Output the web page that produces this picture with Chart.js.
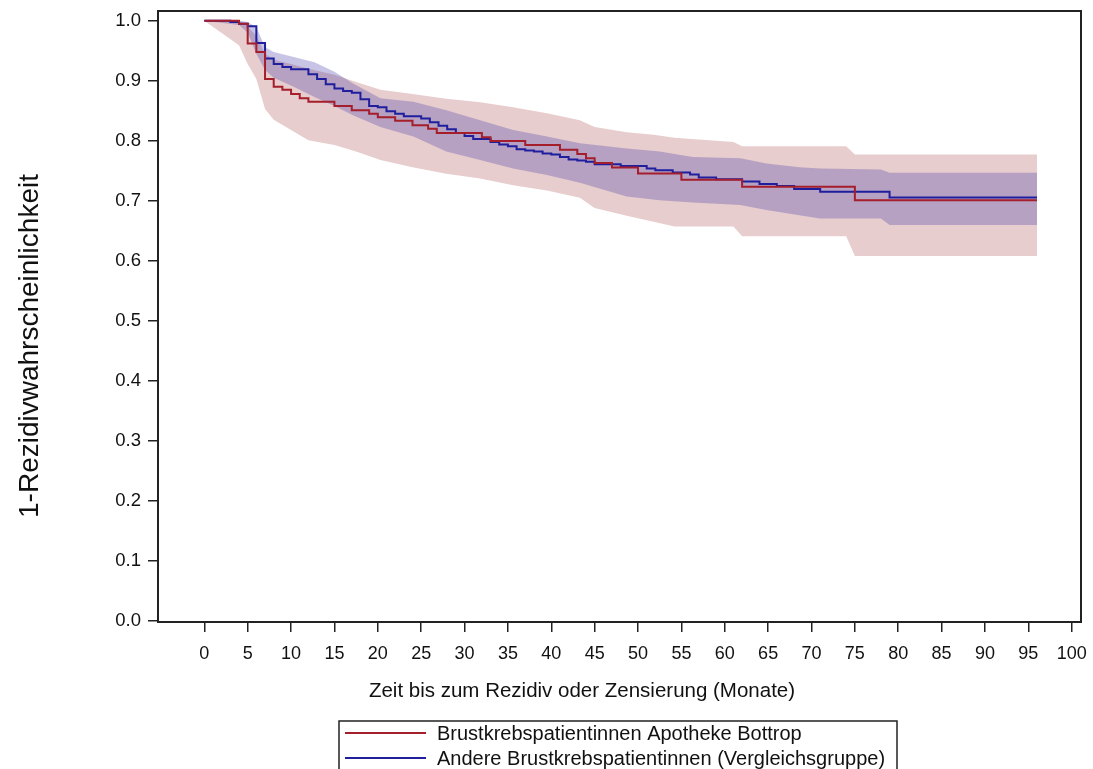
<!DOCTYPE html>
<html lang="de">
<head>
<meta charset="utf-8">
<script src="https://cdn.jsdelivr.net/npm/chart.js@4/dist/chart.umd.min.js"></script>
<style>
  html, body { margin: 0; padding: 0; background: #fff; }
  #wrap { position: relative; width: 1093px; height: 769px; }
</style>
</head>
<body>
<div id="wrap"><canvas id="kmChart"></canvas></div>
<script>
// Kaplan-Meier: Apotheke Bottrop (rot)
const redTimes = [0, 4, 5, 6, 7, 8, 9, 10, 11, 12, 15, 17, 19, 20, 22, 24, 25.8, 26.8, 32, 33, 37, 41, 43, 44, 45, 47, 50, 55, 62, 75, 96];
const redSurv = [1.0, 0.995, 0.962, 0.948, 0.903, 0.890, 0.885, 0.878, 0.871, 0.865, 0.858, 0.851, 0.845, 0.839, 0.8335, 0.826, 0.820, 0.813, 0.806, 0.7995, 0.793, 0.785, 0.778, 0.771, 0.763, 0.7555, 0.7455, 0.735, 0.7233, 0.701, 0.701];

// Kaplan-Meier: Vergleichsgruppe (blau)
const blueTimes = [0, 3, 4, 5, 6, 7, 8, 9, 10, 12, 13, 14, 15, 16, 17, 18, 19, 20, 21, 22, 23, 25, 26, 27, 28, 29, 30, 31, 33, 34, 35, 36, 37, 38, 39, 40, 41, 42, 43, 44, 45, 48, 51, 52, 54, 56, 57, 59, 62, 64, 66, 68, 71, 79, 96];
const blueSurv = [1.0, 0.998, 0.995, 0.991, 0.963, 0.937, 0.928, 0.923, 0.919, 0.911, 0.903, 0.894, 0.887, 0.883, 0.880, 0.869, 0.858, 0.856, 0.849, 0.845, 0.841, 0.837, 0.831, 0.825, 0.819, 0.813, 0.808, 0.803, 0.798, 0.794, 0.791, 0.786, 0.784, 0.782, 0.779, 0.777, 0.773, 0.769, 0.767, 0.765, 0.761, 0.758, 0.754, 0.751, 0.747, 0.744, 0.739, 0.736, 0.732, 0.728, 0.7245, 0.7195, 0.715, 0.7057, 0.7057];

// Konfidenzbänder
const redBandTimes = [0, 4, 5, 6, 7, 8, 10, 12, 15, 17.5, 20.3, 24, 27.9, 31.8, 35.6, 39.5, 43.3, 45, 48.7, 51.8, 54.2, 61, 62, 74, 75, 96];
const redUpper = [1.0, 1.0, 0.99, 0.975, 0.945, 0.935, 0.928, 0.92, 0.91, 0.898, 0.885, 0.878, 0.870, 0.864, 0.856, 0.846, 0.834, 0.823, 0.814, 0.810, 0.805, 0.798, 0.791, 0.791, 0.777, 0.777];
const redLower = [1.0, 0.959, 0.928, 0.903, 0.853, 0.835, 0.818, 0.801, 0.793, 0.782, 0.768, 0.756, 0.745, 0.737, 0.726, 0.717, 0.705, 0.688, 0.675, 0.665, 0.657, 0.657, 0.641, 0.641, 0.608, 0.608];

const blueBandTimes = [0, 4, 5, 6, 7, 8, 10.3, 12.7, 15, 17.2, 20.3, 24.1, 27.9, 31.8, 35.6, 39.5, 43.3, 48.7, 52.5, 56.3, 61.8, 64.8, 68.6, 71, 78, 79, 96];
const blueUpper = [1.0, 1.0, 0.998, 0.989, 0.956, 0.948, 0.9395, 0.931, 0.915, 0.895, 0.871, 0.865, 0.851, 0.834, 0.818, 0.807, 0.796, 0.787, 0.782, 0.773, 0.771, 0.762, 0.756, 0.754, 0.752, 0.7467, 0.7467];
const blueLower = [1.0, 0.993, 0.98, 0.945, 0.918, 0.905, 0.89, 0.873, 0.858, 0.842, 0.823, 0.807, 0.782, 0.768, 0.754, 0.743, 0.73, 0.707, 0.701, 0.697, 0.693, 0.6845, 0.676, 0.6705, 0.6705, 0.6595, 0.6595];

// Achsen
const xTicks = [0, 5, 10, 15, 20, 25, 30, 35, 40, 45, 50, 55, 60, 65, 70, 75, 80, 85, 90, 95, 100];
const yTicks = [0.0, 0.1, 0.2, 0.3, 0.4, 0.5, 0.6, 0.7, 0.8, 0.9, 1.0];
const xTitle = 'Zeit bis zum Rezidiv oder Zensierung (Monate)';
const yTitle = '1-Rezidivwahrscheinlichkeit';
const legendLabels = ['Brustkrebspatientinnen Apotheke Bottrop', 'Andere Brustkrebspatientinnen (Vergleichsgruppe)'];

const RED = '#A51E2B';
const BLUE = '#1F1F9E';
const FONT = '"Liberation Sans", Arial, sans-serif';

function pts(xs, ys) {
    return xs.map((x, i) => ({ x: x, y: ys[i] }));
}

// Rahmen, Achsentitel und Legende
const decorPlugin = {
    id: 'decor',
    afterDraw(chart) {
        const ctx = chart.ctx;
        const a = chart.chartArea;
        ctx.save();
        ctx.strokeStyle = '#222';
        ctx.lineWidth = 2;
        ctx.strokeRect(a.left, a.top, a.right - a.left, a.bottom - a.top);

        ctx.fillStyle = '#111';
        ctx.font = '20.5px ' + FONT;
        ctx.textAlign = 'center';
        ctx.textBaseline = 'alphabetic';
        ctx.fillText(xTitle, 582, 697);

        ctx.save();
        ctx.translate(38, 346);
        ctx.rotate(-Math.PI / 2);
        ctx.font = '28px ' + FONT;
        ctx.fillText(yTitle, 0, 0);
        ctx.restore();

        // Legende (unten abgeschnitten wie im Original)
        ctx.strokeStyle = '#222';
        ctx.lineWidth = 1.5;
        ctx.strokeRect(339, 721, 558, 60);
        const colors = [RED, BLUE];
        const rows = [733, 758];
        ctx.font = '20px ' + FONT;
        ctx.textAlign = 'left';
        ctx.textBaseline = 'middle';
        legendLabels.forEach((lab, i) => {
            ctx.strokeStyle = colors[i];
            ctx.lineWidth = 2;
            ctx.beginPath();
            ctx.moveTo(345, rows[i]);
            ctx.lineTo(426, rows[i]);
            ctx.stroke();
            ctx.fillStyle = '#111';
            ctx.fillText(lab, 437, rows[i] + 1);
        });
        ctx.restore();
    }
};

const lineBase = { pointRadius: 0, pointHoverRadius: 0, tension: 0 };

new Chart(document.getElementById('kmChart'), {
    type: 'line',
    data: {
        datasets: [
            Object.assign({ label: legendLabels[0], data: pts(redTimes, redSurv), borderColor: RED, borderWidth: 2, stepped: 'before', fill: false, order: 0 }, lineBase),
            Object.assign({ label: legendLabels[1], data: pts(blueTimes, blueSurv), borderColor: BLUE, borderWidth: 2, stepped: 'before', fill: false, order: 1 }, lineBase),
            Object.assign({ label: 'blue upper', data: pts(blueBandTimes, blueUpper), borderWidth: 0, borderColor: 'rgba(0,0,0,0)', backgroundColor: 'rgba(70,60,170,0.3)', fill: '+1', order: 2 }, lineBase),
            Object.assign({ label: 'blue lower', data: pts(blueBandTimes, blueLower), borderWidth: 0, borderColor: 'rgba(0,0,0,0)', fill: false, order: 3 }, lineBase),
            Object.assign({ label: 'red upper', data: pts(redBandTimes, redUpper), borderWidth: 0, borderColor: 'rgba(0,0,0,0)', backgroundColor: 'rgb(231,205,205)', fill: '+1', order: 4 }, lineBase),
            Object.assign({ label: 'red lower', data: pts(redBandTimes, redLower), borderWidth: 0, borderColor: 'rgba(0,0,0,0)', fill: false, order: 5 }, lineBase)
        ]
    },
    options: {
        responsive: true,
        maintainAspectRatio: false,
        animation: false,
        layout: { padding: { top: 11, right: 12, left: 0, bottom: 0 } },
        plugins: {
            legend: { display: false },
            tooltip: { enabled: false },
            title: { display: false }
        },
        scales: {
            x: {
                type: 'linear',
                min: -5.34,
                max: 101.07,
                // feste Plotfläche: Überhang der Beschriftung ignorieren
                afterFit: s => { s.height = 147; s.paddingLeft = 0; s.paddingRight = 0; },
                afterBuildTicks: s => { s.ticks = xTicks.map(v => ({ value: v })); },
                border: { display: false },
                grid: { drawOnChartArea: false, drawTicks: true, tickLength: 10, color: '#222', lineWidth: 1.5 },
                ticks: { color: '#111', font: { family: FONT, size: 18 }, padding: 11, maxRotation: 0, autoSkip: false, callback: v => String(v) }
            },
            y: {
                type: 'linear',
                min: -0.0017,
                max: 1.0162,
                afterFit: s => { s.width = 158; s.paddingTop = 0; s.paddingBottom = 0; },
                afterBuildTicks: s => { s.ticks = yTicks.map(v => ({ value: v })); },
                border: { display: false },
                grid: { drawOnChartArea: false, drawTicks: true, tickLength: 10, color: '#222', lineWidth: 1.5 },
                ticks: { color: '#111', font: { family: FONT, size: 18.5 }, padding: 7, autoSkip: false, callback: v => v.toFixed(1) }
            }
        }
    },
    plugins: [decorPlugin]
});
</script>
</body>
</html>
